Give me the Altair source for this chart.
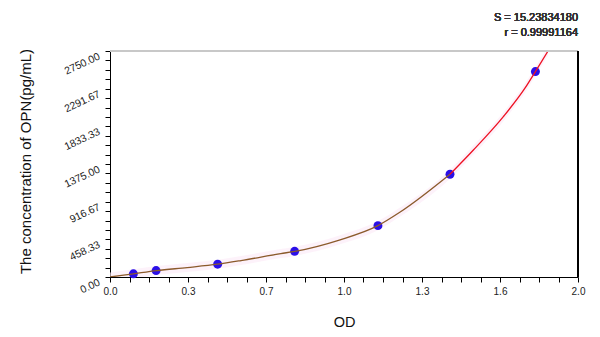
import altair as alt
import pandas as pd

# Standard points (OD, concentration pg/mL)
std_od = [0.100, 0.197, 0.460, 0.789, 1.145, 1.453, 1.818]
std_conc = [39.06, 78.13, 156.25, 312.5, 625.0, 1250.0, 2500.0]

# Fitted curve: lower (brown) and upper (red) parts
low_od = [0.0, 0.10, 0.20, 0.33, 0.46, 0.56, 0.73, 0.79, 0.98, 1.145, 1.24, 1.453]
low_conc = [0, 39, 78, 115, 156, 200, 285, 312, 450, 625, 790, 1250]
up_od = [1.453, 1.553, 1.681, 1.774, 1.818, 1.872]
up_conc = [1250, 1545, 1951, 2300, 2500, 2750]

x_labels = ["0.0", "0.3", "0.7", "1.0", "1.3", "1.6", "2.0"]
y_labels = ["0.00", "458.33", "916.67", "1375.00", "1833.33", "2291.67", "2750.00"]

x_ticks = [k / 12 for k in range(25)]
y_ticks = [k * 2750 / 24 for k in range(25)]

pts = pd.DataFrame({"od": std_od, "conc": std_conc})
low = pd.DataFrame({"od": low_od, "conc": low_conc})
up = pd.DataFrame({"od": up_od, "conc": up_conc})
band = pd.concat([low, up.iloc[1:]], ignore_index=True)

W, H = 468, 226

xs = alt.Scale(domain=[0, 2], nice=False, zero=False)
ys = alt.Scale(domain=[0, 2750], nice=False, zero=False)

x_expr = (
    "(abs(datum.value*12 - round(datum.value*12)) < 1e-6 && round(datum.value*12) % 4 == 0) ? "
    + str(x_labels) + "[round(datum.value*12)/4] : ''"
)
y_expr = (
    "(abs(datum.value*24/2750 - round(datum.value*24/2750)) < 1e-6 && round(datum.value*24/2750) % 4 == 0) ? "
    + str(y_labels) + "[round(datum.value*24/2750)/4] : ''"
)

x_axis = alt.Axis(
    values=x_ticks, labelExpr=x_expr,
    labelOverlap=False, labelFlush=False,
    grid=False, domainColor="black", tickColor="black", tickSize=5,
    labelFontSize=10, labelColor="#222", labelPadding=4,
    title="OD", titleFontSize=14.5, titleFontWeight="normal", titleColor="#111",
    titleY=45, titleBaseline="middle",
)
y_axis = alt.Axis(
    values=y_ticks, labelExpr=y_expr,
    labelOverlap=False, labelFlush=False,
    grid=False, domainColor="black", tickColor="black", tickSize=5,
    labelFontSize=10.5, labelColor="#222", labelPadding=8,
    labelAngle=335, labelAlign="right", labelBaseline="top",
    title="The concentration of OPN(pg/mL)", titleFontSize=15,
    titleFontWeight="normal", titleColor="#111",
    titleX=-85, titleY=H / 2 - 3, titleBaseline="middle",
)

X = alt.X("od:Q", scale=xs, axis=x_axis)
Y = alt.Y("conc:Q", scale=ys, axis=y_axis)

band_layer = alt.Chart(band).transform_calculate(
    lo="datum.conc - 55", hi="datum.conc + 55"
).mark_area(color="#fceaf6", opacity=0.6, interpolate="monotone", clip=True).encode(
    x=X,
    y=alt.Y("lo:Q", scale=ys, axis=y_axis),
    y2="hi:Q",
)

pt_layer = alt.Chart(pts).mark_point(
    shape="circle", filled=True, color="#2a0fe8", size=80, opacity=1
).encode(x=X, y=Y)

low_layer = alt.Chart(low).mark_line(
    color="#8b5a2b", strokeWidth=1.3, interpolate="monotone", clip=True
).encode(x=X, y=Y)

up_layer = alt.Chart(up).mark_line(
    color="#ee1122", strokeWidth=1.3, interpolate="monotone", clip=True
).encode(x=X, y=Y)

top_rule = alt.Chart(pts).mark_rule(color="#c8c8c8", strokeWidth=2).encode(
    x=alt.value(0), x2=alt.value(W), y=alt.value(0)
)
right_rule = alt.Chart(pts).mark_rule(color="black", strokeWidth=1.5).encode(
    x=alt.value(W), y=alt.value(0), y2=alt.value(H)
)

s_text = alt.Chart(pts).mark_text(
    align="right", baseline="middle", fontSize=11, fontWeight="normal", color="#333"
).encode(x=alt.value(W), y=alt.value(-33), text=alt.value("S = 15.23834180"))
r_text = alt.Chart(pts).mark_text(
    align="right", baseline="middle", fontSize=11, fontWeight="normal", color="#333"
).encode(x=alt.value(W), y=alt.value(-18), text=alt.value("r = 0.99991164"))

chart = alt.layer(
    band_layer, pt_layer, low_layer, up_layer, top_rule, right_rule, s_text, r_text
).properties(
    width=W, height=H,
    autosize=alt.AutoSizeParams(type="none"),
    padding={"left": 110, "top": 51, "right": 22, "bottom": 60},
    background="white",
).configure_view(stroke=None).configure(font="Liberation Sans").configure_axis(
    labelOverlap=False
)

chart.save("out.html", embed_options={"renderer": "svg", "actions": False})
